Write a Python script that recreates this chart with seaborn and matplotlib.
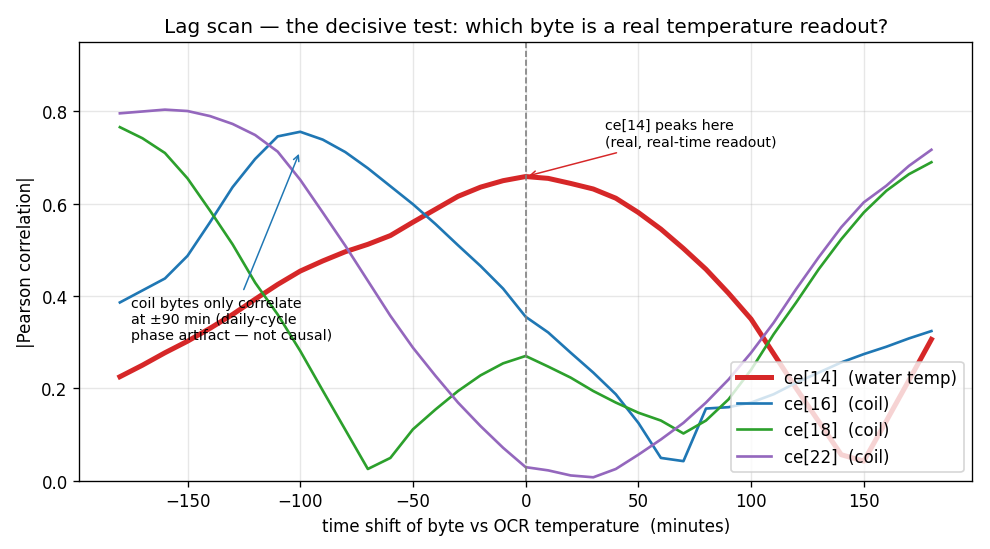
import numpy as np
import pandas as pd
import seaborn as sns
import matplotlib.pyplot as plt

# lag in minutes (byte shifted vs OCR temperature)
lags = [-180, -170, -160, -150, -140, -130, -120, -110, -100, -90, -80, -70, -60,
        -50, -40, -30, -20, -10, 0, 10, 20, 30, 40, 50, 60, 70, 80, 90, 100,
        110, 120, 130, 140, 150, 160, 170, 180]

ce14 = [0.225, 0.250, 0.277, 0.302, 0.330, 0.360, 0.393, 0.425, 0.454, 0.476, 0.496, 0.512, 0.531,
        0.560, 0.588, 0.616, 0.636, 0.650, 0.659, 0.655, 0.644, 0.632, 0.612, 0.581, 0.545, 0.503,
        0.458, 0.406, 0.350, 0.275, 0.200, 0.128, 0.056, 0.042, 0.129, 0.217, 0.306]
ce16 = [0.386, 0.412, 0.438, 0.487, 0.560, 0.636, 0.697, 0.746, 0.756, 0.739, 0.712, 0.677, 0.638,
        0.599, 0.556, 0.510, 0.465, 0.416, 0.355, 0.321, 0.277, 0.234, 0.187, 0.125, 0.049, 0.042,
        0.156, 0.159, 0.169, 0.187, 0.212, 0.234, 0.256, 0.274, 0.290, 0.308, 0.324]
ce18 = [0.766, 0.742, 0.710, 0.655, 0.585, 0.512, 0.429, 0.360, 0.281, 0.195, 0.110, 0.025, 0.049,
        0.111, 0.154, 0.194, 0.228, 0.254, 0.270, 0.247, 0.223, 0.194, 0.169, 0.147, 0.130, 0.102,
        0.130, 0.176, 0.240, 0.317, 0.386, 0.458, 0.523, 0.581, 0.628, 0.664, 0.690]
ce22 = [0.796, 0.800, 0.804, 0.801, 0.790, 0.773, 0.749, 0.713, 0.652, 0.581, 0.509, 0.433, 0.357,
        0.288, 0.227, 0.169, 0.118, 0.071, 0.029, 0.022, 0.011, 0.007, 0.025, 0.056, 0.089, 0.125,
        0.169, 0.219, 0.277, 0.342, 0.415, 0.484, 0.549, 0.603, 0.639, 0.682, 0.717]

series = [
    (ce14, "ce[14]  (water temp)", "tab:red", 3.0),
    (ce16, "ce[16]  (coil)", "tab:blue", 1.6),
    (ce18, "ce[18]  (coil)", "tab:green", 1.6),
    (ce22, "ce[22]  (coil)", "tab:purple", 1.6),
]

fig, ax = plt.subplots(figsize=(8.25, 4.5833), dpi=120)

for vals, name, col, lw in series:
    sns.lineplot(x=lags, y=vals, ax=ax, color=col, lw=lw, label=name)

ax.axvline(0, color="gray", ls="--", lw=1)

ax.annotate("ce[14] peaks here\n(real, real-time readout)",
            xy=(0, 0.659), xytext=(35, 0.785), va="top", fontsize=8.5,
            arrowprops=dict(arrowstyle="->", color="tab:red", lw=0.9))
ax.annotate("coil bytes only correlate\nat \u00b190 min (daily-cycle\nphase artifact \u2014 not causal)",
            xy=(-100, 0.715), xytext=(-175, 0.40), va="top", fontsize=8.5,
            arrowprops=dict(arrowstyle="->", color="tab:blue", lw=0.9))

ax.set_ylim(0, 0.95)
ax.grid(alpha=0.3)
ax.set_xlabel("time shift of byte vs OCR temperature  (minutes)")
ax.set_ylabel("|Pearson correlation|")
ax.set_title("Lag scan \u2014 the decisive test: which byte is a real temperature readout?", fontsize=12)
ax.legend(loc="lower right")

fig.subplots_adjust(left=0.0801, right=0.9818, bottom=0.1245, top=0.9213)
fig.savefig("out.png")
